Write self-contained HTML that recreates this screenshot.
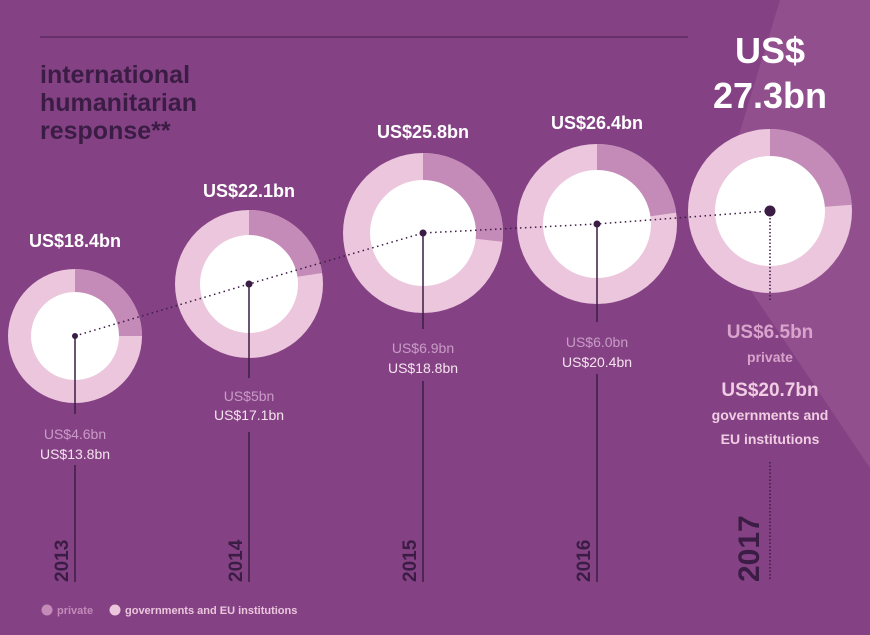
<!DOCTYPE html>
<html><head><meta charset="utf-8"><style>
html,body{margin:0;padding:0;background:#844285;}
svg{display:block;font-family:"Liberation Sans",sans-serif;}
</style></head><body>
<svg width="870" height="635" viewBox="0 0 870 635" xmlns="http://www.w3.org/2000/svg">
<rect width="870" height="635" fill="#844285"/>
<polygon points="780,0 870,0 870,468 710,230" fill="#914f8e"/>
<line x1="40" y1="37" x2="688" y2="37" stroke="#5e2b63" stroke-width="1.5"/>
<g font-weight="bold" font-size="25" fill="#3b1c44">
<text x="40" y="83">international</text>
<text x="40" y="111">humanitarian</text>
<text x="40" y="139">response**</text>
</g>
<g>
<circle cx="75" cy="336" r="67" fill="#ebc6dc"/>
<path d="M75,336 L75,269 A67,67 0 0 1 142,336 Z" fill="#c48ab8"/>
<circle cx="75" cy="336" r="44" fill="#fff"/>
<circle cx="249" cy="284" r="74" fill="#ebc6dc"/>
<path d="M249,284 L249,210 A74,74 0 0 1 322.2,273 Z" fill="#c48ab8"/>
<circle cx="249" cy="284" r="49" fill="#fff"/>
<circle cx="423" cy="233" r="80" fill="#ebc6dc"/>
<path d="M423,233 L423,153 A80,80 0 0 1 502.5,241.8 Z" fill="#c48ab8"/>
<circle cx="423" cy="233" r="53" fill="#fff"/>
<circle cx="597" cy="224" r="80" fill="#ebc6dc"/>
<path d="M597,224 L597,144 A80,80 0 0 1 676.2,212.6 Z" fill="#c48ab8"/>
<circle cx="597" cy="224" r="54" fill="#fff"/>
<circle cx="770" cy="211" r="82" fill="#ebc6dc"/>
<path d="M770,211 L770,129 A82,82 0 0 1 851.8,204.8 Z" fill="#c48ab8"/>
<circle cx="770" cy="211" r="55" fill="#fff"/>
</g>
<polyline points="75,336 249,284 423,233 597,224 770,211" fill="none" stroke="#3b1c44" stroke-width="1.5" stroke-dasharray="1.5 3.5"/>
<g fill="#3b1c44">
<circle cx="75" cy="336" r="3"/><circle cx="249" cy="284" r="3.5"/><circle cx="423" cy="233" r="3.5"/><circle cx="597" cy="224" r="3.5"/><circle cx="770" cy="211" r="5.5"/>
</g>
<g stroke="#3b1c44" stroke-width="1.5">
<line x1="75" y1="336" x2="75" y2="414"/><line x1="75" y1="465" x2="75" y2="582"/>
<line x1="249" y1="284" x2="249" y2="378"/><line x1="249" y1="432" x2="249" y2="582"/>
<line x1="423" y1="233" x2="423" y2="329"/><line x1="423" y1="381" x2="423" y2="582"/>
<line x1="597" y1="224" x2="597" y2="322"/><line x1="597" y1="374" x2="597" y2="582"/>
<line x1="770" y1="211" x2="770" y2="302" stroke-dasharray="1.5 2"/>
<line x1="770" y1="462" x2="770" y2="581" stroke-dasharray="1.5 2"/>
</g>
<g font-weight="bold" fill="#fff" text-anchor="middle" font-size="18">
<text x="75" y="247">US$18.4bn</text>
<text x="249" y="197">US$22.1bn</text>
<text x="423" y="138">US$25.8bn</text>
<text x="597" y="129">US$26.4bn</text>
<text x="770" y="63" font-size="36">US$</text>
<text x="770" y="108" font-size="36">27.3bn</text>
</g>
<g text-anchor="middle" font-size="14">
<text x="75" y="439" fill="#c99bc6">US$4.6bn</text>
<text x="75" y="459" fill="#f5e3ee">US$13.8bn</text>
<text x="249" y="401" fill="#c99bc6">US$5bn</text>
<text x="249" y="420" fill="#f5e3ee">US$17.1bn</text>
<text x="423" y="353" fill="#c99bc6">US$6.9bn</text>
<text x="423" y="373" fill="#f5e3ee">US$18.8bn</text>
<text x="597" y="347" fill="#c99bc6">US$6.0bn</text>
<text x="597" y="367" fill="#f5e3ee">US$20.4bn</text>
</g>
<g text-anchor="middle" font-weight="bold">
<text x="770" y="338" font-size="19" fill="#d9a3cc">US$6.5bn</text>
<text x="770" y="362" font-size="14" fill="#d9a3cc">private</text>
<text x="770" y="396" font-size="19" fill="#f0cde2">US$20.7bn</text>
<text x="770" y="420" font-size="14" fill="#f0cde2">governments and</text>
<text x="770" y="444" font-size="14" fill="#f0cde2">EU institutions</text>
</g>
<g font-weight="bold" fill="#3b1c44" font-size="19">
<text transform="translate(68,582) rotate(-90)">2013</text>
<text transform="translate(242,582) rotate(-90)">2014</text>
<text transform="translate(416,582) rotate(-90)">2015</text>
<text transform="translate(590,582) rotate(-90)">2016</text>
<text transform="translate(759,582) rotate(-90)" font-size="30">2017</text>
</g>
<circle cx="47" cy="610" r="5.5" fill="#c48ab8"/>
<text x="57" y="614" font-size="11" font-weight="bold" fill="#c48ab8">private</text>
<circle cx="115" cy="610" r="5.5" fill="#ebc6dc"/>
<text x="125" y="614" font-size="11" font-weight="bold" fill="#ebc6dc">governments and EU institutions</text>
</svg>
</body></html>
